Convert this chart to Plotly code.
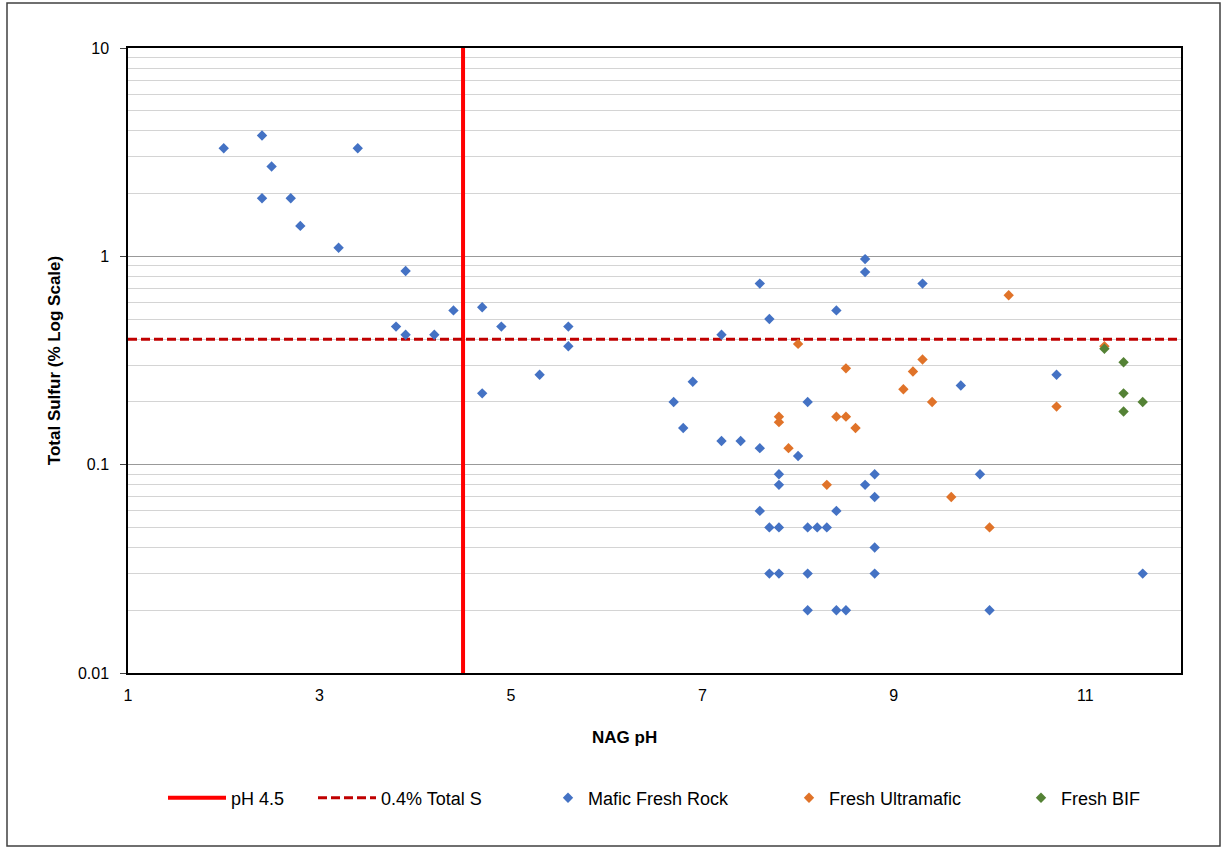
import plotly.graph_objects as go

# ---------------- data ----------------
mafic_ph = [2.0, 2.4, 2.5, 2.4, 2.7, 2.8, 3.2, 3.4, 3.9, 3.8, 3.9, 4.2, 4.4, 4.7, 4.7, 4.9, 5.3,
            5.6, 5.6, 6.7, 6.9, 6.8, 7.2, 7.2, 7.4, 7.6, 7.6, 7.7, 8.0, 7.8, 8.8, 9.9, 7.8, 8.7,
            8.8, 7.6, 8.4, 7.7, 7.8, 8.1, 8.2, 8.3, 8.8, 7.7, 7.8, 8.1, 8.8, 8.1, 8.4, 8.5, 10.0,
            11.6, 8.7, 8.7, 8.4, 9.3, 8.1, 10.7, 9.7]
mafic_s = [3.3, 3.8, 2.7, 1.9, 1.9, 1.4, 1.1, 3.3, 0.85, 0.46, 0.42, 0.42, 0.55, 0.57, 0.22, 0.46, 0.27,
           0.46, 0.37, 0.20, 0.25, 0.15, 0.42, 0.13, 0.13, 0.12, 0.74, 0.50, 0.11, 0.09, 0.09, 0.09, 0.08, 0.08,
           0.07, 0.06, 0.06, 0.05, 0.05, 0.05, 0.05, 0.05, 0.04, 0.03, 0.03, 0.03, 0.03, 0.02, 0.02, 0.02, 0.02,
           0.03, 0.97, 0.84, 0.55, 0.74, 0.20, 0.27, 0.24]

ultra_ph = [7.9, 8.3, 9.6, 10.0, 8.0, 8.5, 7.8, 7.8, 8.4, 8.5, 8.6, 10.2, 11.2, 9.3, 9.2, 9.1, 9.4, 10.7]
ultra_s = [0.12, 0.08, 0.07, 0.05, 0.38, 0.29, 0.17, 0.16, 0.17, 0.17, 0.15, 0.65, 0.37, 0.32, 0.28, 0.23, 0.20, 0.19]

bif_ph = [11.2, 11.4, 11.4, 11.6, 11.4]
bif_s = [0.36, 0.31, 0.22, 0.20, 0.18]

ph_limit_x = [4.5, 4.5]
ph_limit_y = [0.01, 10]
s_limit_x = [1, 12]
s_limit_y = [0.4, 0.4]

x_ticks = [1, 3, 5, 7, 9, 11]
y_ticks = [0.01, 0.1, 1, 10]
y_ticktext = ["0.01", "0.1", "1", "10"]
y_minor = [k * 10 ** e for e in (-2, -1, 0) for k in range(2, 10)]

# ---------------- layout helpers ----------------
W, H = 1228, 847
L, R, T, B = 128, 1181, 48, 673


def px_x(p):
    return (p - L) / (R - L)


def px_y(p):
    return (B - p) / (B - T)


FONT = "Liberation Sans, Arial, sans-serif"
BLUE = "#4472C4"
ORANGE = "#E07329"
GREEN = "#548235"

fig = go.Figure()
fig.add_trace(go.Scatter(x=ph_limit_x, y=ph_limit_y, mode="lines", name="pH 4.5",
                         line=dict(color="#FF0000", width=4), legend="legend"))
fig.add_trace(go.Scatter(x=s_limit_x, y=s_limit_y, mode="lines", name="0.4% Total S",
                         line=dict(color="#C00000", width=3, dash="9px,4px"), legend="legend2"))
fig.add_trace(go.Scatter(x=mafic_ph, y=mafic_s, mode="markers", name="Mafic Fresh Rock",
                         marker=dict(symbol="diamond", size=8, color=BLUE), legend="legend3"))
fig.add_trace(go.Scatter(x=ultra_ph, y=ultra_s, mode="markers", name="Fresh Ultramafic",
                         marker=dict(symbol="diamond", size=8, color=ORANGE), legend="legend4"))
fig.add_trace(go.Scatter(x=bif_ph, y=bif_s, mode="markers", name="Fresh BIF",
                         marker=dict(symbol="diamond", size=8, color=GREEN), legend="legend5"))

leg_common = dict(orientation="h", yanchor="middle", xanchor="left", bgcolor="rgba(0,0,0,0)",
                  font=dict(family=FONT, size=18, color="#000000"))
text_starts = [231, 381, 588, 829, 1061]
item_widths = [58, 58, 30, 30, 30]
legends = {}
for i, (tx, iw) in enumerate(zip(text_starts, item_widths)):
    key = "legend" if i == 0 else f"legend{i + 1}"
    legends[key] = dict(leg_common, x=px_x(tx - 40 - (iw - 30)), y=px_y(798), itemwidth=iw)

ydom_pos = 2 / 3  # position of y=1 within the log axis [-2, 1]

fig.update_layout(
    width=W, height=H,
    margin=dict(l=L, r=W - R, t=T, b=H - B, pad=0),
    paper_bgcolor="white", plot_bgcolor="white",
    showlegend=True,
    font=dict(family=FONT, size=16, color="#000000"),
    xaxis=dict(range=[1, 12], tickvals=x_ticks, ticks="", showgrid=False, zeroline=False,
               showline=True, mirror=True, linecolor="#000000", linewidth=1.5,
               tickfont=dict(size=16, family=FONT), ticklabelstandoff=7),
    xaxis2=dict(overlaying="x", matches="x", anchor="free", position=ydom_pos, side="bottom",
                tickvals=x_ticks, ticks="outside", ticklen=5, tickcolor="#404040", tickwidth=1,
                showticklabels=False, showgrid=False, showline=False, zeroline=False),
    yaxis=dict(type="log", range=[-2, 1], tickvals=y_ticks, ticktext=y_ticktext,
               ticks="outside", ticklen=6, tickcolor="#404040",
               showgrid=True, gridcolor="#999999", gridwidth=1, zeroline=False,
               showline=True, mirror=True, linecolor="#000000", linewidth=1.5,
               tickfont=dict(size=16, family=FONT), ticklabelstandoff=8,
               minor=dict(tickmode="array", tickvals=y_minor, showgrid=True,
                          gridcolor="#d4d4d4", gridwidth=1, ticks=""),
               title=dict(text="<b>Total Sulfur (% Log Scale)</b>", font=dict(size=17, family=FONT),
                          standoff=13)),
    **legends,
    annotations=[dict(text="<b>NAG pH</b>", xref="paper", yref="paper", x=px_x(624), y=px_y(737),
                      xanchor="center", yanchor="middle", showarrow=False,
                      font=dict(size=17, family=FONT, color="#000000"))],
    shapes=[dict(type="rect", xref="paper", yref="paper",
                 x0=px_x(7), x1=px_x(1220), y0=px_y(846), y1=px_y(3),
                 line=dict(color="#404040", width=1.5), fillcolor="rgba(0,0,0,0)", layer="below")],
)

fig.write_html("out.html")
